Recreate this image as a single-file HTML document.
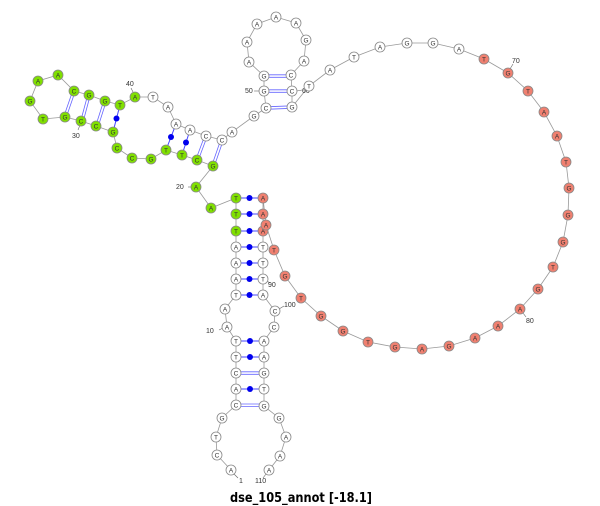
<!DOCTYPE html>
<html><head><meta charset="utf-8"><style>
html,body{margin:0;padding:0;background:#fff;}
svg{display:block}
.n circle{stroke:#888;stroke-width:0.8}
.w circle{fill:#fff}.g circle{fill:#80e000}.r circle{fill:#f08070}
.n text{font-family:"Liberation Sans",sans-serif;font-size:6.5px;text-anchor:middle;fill:#333}
.lb{font-family:"Liberation Sans",sans-serif;font-size:7px;fill:#333}
</style></head><body>
<svg width="600" height="506" viewBox="0 0 600 506">
<polyline fill="none" stroke="#999" stroke-width="0.8" points="231,470 217,455 216,437 222,418 236,405 236,389 236,373 236,357 236,341 227,327 225,309 236,295 236,279 236,263 236,247 236,231 236,214 236,198 211,208 196,187 213,166 197,160 182,155 166,150 151,159 132,158 117,148 113,132 96,126 81,121 65,117 43,119 30,101 38,81 58,75 74,91 89,95 105,101 120,105 135,97 153,97 168,107 176,124 190,130 206,136 222,140 232,132 254,116 266,108 264,91 264,76 249,62 247,42 257,24 276,17 296,23 306,40 304,61 291,75 292,91 292,107 309,86 330,70 354,57 380,47 407,43 433,43 459,49 484,59 508,73 528,91 544,112 557,136 566,162 569,188 568,215 563,242 553,267 538,289 520,309 498,326 475,338 449,346 422,349 395,347 368,342 343,331 321,316 301,298 285,276 274,250 266,225 263,198 263,214 263,231 263,247 263,263 263,279 263,295 275,311 274,327 264,341 264,357 264,373 264,389 264,406 279,418 286,437 280,456 269,470"/>
<g stroke="#4444ff" stroke-width="1">
<line x1="236" y1="389" x2="264" y2="389"/><line x1="236" y1="357" x2="264" y2="357"/><line x1="236" y1="341" x2="264" y2="341"/>
<line x1="236" y1="295" x2="263" y2="295"/><line x1="236" y1="279" x2="263" y2="279"/><line x1="236" y1="263" x2="263" y2="263"/><line x1="236" y1="247" x2="263" y2="247"/><line x1="236" y1="231" x2="263" y2="231"/><line x1="236" y1="214" x2="263" y2="214"/><line x1="236" y1="198" x2="263" y2="198"/>
<line x1="182" y1="155" x2="190" y2="130"/><line x1="166" y1="150" x2="176" y2="124"/><line x1="113" y1="132" x2="120" y2="105"/>
</g>
<g fill="#0000ee">
<circle cx="250" cy="389" r="3"/><circle cx="250" cy="357" r="3"/><circle cx="250" cy="341" r="3"/>
<circle cx="249.5" cy="295" r="3"/><circle cx="249.5" cy="279" r="3"/><circle cx="249.5" cy="263" r="3"/><circle cx="249.5" cy="247" r="3"/><circle cx="249.5" cy="231" r="3"/><circle cx="249.5" cy="214" r="3"/><circle cx="249.5" cy="198" r="3"/>
<circle cx="186" cy="142.5" r="3"/><circle cx="171" cy="137" r="3"/><circle cx="116.5" cy="118.5" r="3"/>
</g>
<g stroke="#6666ff" stroke-width="0.8">
<line x1="236" y1="404" x2="264" y2="404"/><line x1="236" y1="406.5" x2="264" y2="406.5"/>
<line x1="236" y1="371.8" x2="264" y2="371.8"/><line x1="236" y1="374.3" x2="264" y2="374.3"/>
<line x1="264" y1="74.8" x2="291" y2="74.8"/><line x1="264" y1="77.3" x2="291" y2="77.3"/>
<line x1="264" y1="89.8" x2="292" y2="89.8"/><line x1="264" y1="92.3" x2="292" y2="92.3"/>
<line x1="266" y1="106.8" x2="292" y2="105.8"/><line x1="266" y1="109.3" x2="292" y2="108.3"/>
<line x1="211.8" y1="165.6" x2="220.8" y2="139.6"/><line x1="214.2" y1="166.4" x2="223.2" y2="140.4"/>
<line x1="195.8" y1="159.6" x2="204.8" y2="135.6"/><line x1="198.2" y1="160.4" x2="207.2" y2="136.4"/>
<line x1="95.8" y1="125.6" x2="103.8" y2="100.6"/><line x1="98.2" y1="126.4" x2="106.2" y2="101.4"/>
<line x1="80.8" y1="120.6" x2="87.8" y2="94.6"/><line x1="83.2" y1="121.4" x2="90.2" y2="95.4"/>
<line x1="63.8" y1="116.6" x2="72.8" y2="90.6"/><line x1="66.2" y1="117.4" x2="75.2" y2="91.4"/>
</g>
<g stroke="#666" stroke-width="0.6">
<line x1="234" y1="474" x2="238" y2="478"/><line x1="266" y1="474" x2="263" y2="478"/>
<line x1="219" y1="330" x2="223" y2="328"/><line x1="188" y1="187" x2="192" y2="187"/>
<line x1="80" y1="125" x2="78" y2="130"/><line x1="133" y1="92" x2="131" y2="88"/>
<line x1="254" y1="91" x2="259" y2="91"/><line x1="297" y1="91" x2="302" y2="90"/>
<line x1="510" y1="69" x2="513" y2="64"/><line x1="523" y1="313" x2="526" y2="317"/>
<line x1="267" y1="281" x2="270" y2="283"/><line x1="279" y1="309" x2="284" y2="306"/>
</g>
<g class="lb">
<text x="239" y="483">1</text><text x="255" y="483">110</text>
<text x="206" y="333">10</text><text x="176" y="189">20</text>
<text x="72" y="138">30</text><text x="126" y="86">40</text>
<text x="245" y="93">50</text><text x="302" y="93">60</text>
<text x="512" y="63">70</text><text x="526" y="323">80</text>
<text x="268" y="287">90</text><text x="284" y="307">100</text>
</g>
<g class="n">
<g class="w"><circle cx="231" cy="470" r="5"/><text x="231" y="472.3">A</text></g>
<g class="w"><circle cx="217" cy="455" r="5"/><text x="217" y="457.3">C</text></g>
<g class="w"><circle cx="216" cy="437" r="5"/><text x="216" y="439.3">T</text></g>
<g class="w"><circle cx="222" cy="418" r="5"/><text x="222" y="420.3">G</text></g>
<g class="w"><circle cx="236" cy="405" r="5"/><text x="236" y="407.3">C</text></g>
<g class="w"><circle cx="236" cy="389" r="5"/><text x="236" y="391.3">A</text></g>
<g class="w"><circle cx="236" cy="373" r="5"/><text x="236" y="375.3">C</text></g>
<g class="w"><circle cx="236" cy="357" r="5"/><text x="236" y="359.3">T</text></g>
<g class="w"><circle cx="236" cy="341" r="5"/><text x="236" y="343.3">T</text></g>
<g class="w"><circle cx="227" cy="327" r="5"/><text x="227" y="329.3">A</text></g>
<g class="w"><circle cx="225" cy="309" r="5"/><text x="225" y="311.3">A</text></g>
<g class="w"><circle cx="236" cy="295" r="5"/><text x="236" y="297.3">T</text></g>
<g class="w"><circle cx="236" cy="279" r="5"/><text x="236" y="281.3">A</text></g>
<g class="w"><circle cx="236" cy="263" r="5"/><text x="236" y="265.3">A</text></g>
<g class="w"><circle cx="236" cy="247" r="5"/><text x="236" y="249.3">A</text></g>
<g class="g"><circle cx="236" cy="231" r="5"/><text x="236" y="233.3">T</text></g>
<g class="g"><circle cx="236" cy="214" r="5"/><text x="236" y="216.3">T</text></g>
<g class="g"><circle cx="236" cy="198" r="5"/><text x="236" y="200.3">T</text></g>
<g class="g"><circle cx="211" cy="208" r="5"/><text x="211" y="210.3">A</text></g>
<g class="g"><circle cx="196" cy="187" r="5"/><text x="196" y="189.3">A</text></g>
<g class="g"><circle cx="213" cy="166" r="5"/><text x="213" y="168.3">G</text></g>
<g class="g"><circle cx="197" cy="160" r="5"/><text x="197" y="162.3">C</text></g>
<g class="g"><circle cx="182" cy="155" r="5"/><text x="182" y="157.3">T</text></g>
<g class="g"><circle cx="166" cy="150" r="5"/><text x="166" y="152.3">T</text></g>
<g class="g"><circle cx="151" cy="159" r="5"/><text x="151" y="161.3">G</text></g>
<g class="g"><circle cx="132" cy="158" r="5"/><text x="132" y="160.3">C</text></g>
<g class="g"><circle cx="117" cy="148" r="5"/><text x="117" y="150.3">C</text></g>
<g class="g"><circle cx="113" cy="132" r="5"/><text x="113" y="134.3">G</text></g>
<g class="g"><circle cx="96" cy="126" r="5"/><text x="96" y="128.3">C</text></g>
<g class="g"><circle cx="81" cy="121" r="5"/><text x="81" y="123.3">C</text></g>
<g class="g"><circle cx="65" cy="117" r="5"/><text x="65" y="119.3">G</text></g>
<g class="g"><circle cx="43" cy="119" r="5"/><text x="43" y="121.3">T</text></g>
<g class="g"><circle cx="30" cy="101" r="5"/><text x="30" y="103.3">G</text></g>
<g class="g"><circle cx="38" cy="81" r="5"/><text x="38" y="83.3">A</text></g>
<g class="g"><circle cx="58" cy="75" r="5"/><text x="58" y="77.3">A</text></g>
<g class="g"><circle cx="74" cy="91" r="5"/><text x="74" y="93.3">C</text></g>
<g class="g"><circle cx="89" cy="95" r="5"/><text x="89" y="97.3">G</text></g>
<g class="g"><circle cx="105" cy="101" r="5"/><text x="105" y="103.3">G</text></g>
<g class="g"><circle cx="120" cy="105" r="5"/><text x="120" y="107.3">T</text></g>
<g class="g"><circle cx="135" cy="97" r="5"/><text x="135" y="99.3">A</text></g>
<g class="w"><circle cx="153" cy="97" r="5"/><text x="153" y="99.3">T</text></g>
<g class="w"><circle cx="168" cy="107" r="5"/><text x="168" y="109.3">A</text></g>
<g class="w"><circle cx="176" cy="124" r="5"/><text x="176" y="126.3">A</text></g>
<g class="w"><circle cx="190" cy="130" r="5"/><text x="190" y="132.3">A</text></g>
<g class="w"><circle cx="206" cy="136" r="5"/><text x="206" y="138.3">C</text></g>
<g class="w"><circle cx="222" cy="140" r="5"/><text x="222" y="142.3">C</text></g>
<g class="w"><circle cx="232" cy="132" r="5"/><text x="232" y="134.3">A</text></g>
<g class="w"><circle cx="254" cy="116" r="5"/><text x="254" y="118.3">G</text></g>
<g class="w"><circle cx="266" cy="108" r="5"/><text x="266" y="110.3">C</text></g>
<g class="w"><circle cx="264" cy="91" r="5"/><text x="264" y="93.3">G</text></g>
<g class="w"><circle cx="264" cy="76" r="5"/><text x="264" y="78.3">G</text></g>
<g class="w"><circle cx="249" cy="62" r="5"/><text x="249" y="64.3">A</text></g>
<g class="w"><circle cx="247" cy="42" r="5"/><text x="247" y="44.3">A</text></g>
<g class="w"><circle cx="257" cy="24" r="5"/><text x="257" y="26.3">A</text></g>
<g class="w"><circle cx="276" cy="17" r="5"/><text x="276" y="19.3">A</text></g>
<g class="w"><circle cx="296" cy="23" r="5"/><text x="296" y="25.3">A</text></g>
<g class="w"><circle cx="306" cy="40" r="5"/><text x="306" y="42.3">G</text></g>
<g class="w"><circle cx="304" cy="61" r="5"/><text x="304" y="63.3">A</text></g>
<g class="w"><circle cx="291" cy="75" r="5"/><text x="291" y="77.3">C</text></g>
<g class="w"><circle cx="292" cy="91" r="5"/><text x="292" y="93.3">C</text></g>
<g class="w"><circle cx="292" cy="107" r="5"/><text x="292" y="109.3">G</text></g>
<g class="w"><circle cx="309" cy="86" r="5"/><text x="309" y="88.3">T</text></g>
<g class="w"><circle cx="330" cy="70" r="5"/><text x="330" y="72.3">A</text></g>
<g class="w"><circle cx="354" cy="57" r="5"/><text x="354" y="59.3">T</text></g>
<g class="w"><circle cx="380" cy="47" r="5"/><text x="380" y="49.3">A</text></g>
<g class="w"><circle cx="407" cy="43" r="5"/><text x="407" y="45.3">G</text></g>
<g class="w"><circle cx="433" cy="43" r="5"/><text x="433" y="45.3">G</text></g>
<g class="w"><circle cx="459" cy="49" r="5"/><text x="459" y="51.3">A</text></g>
<g class="r"><circle cx="484" cy="59" r="5"/><text x="484" y="61.3">T</text></g>
<g class="r"><circle cx="508" cy="73" r="5"/><text x="508" y="75.3">G</text></g>
<g class="r"><circle cx="528" cy="91" r="5"/><text x="528" y="93.3">T</text></g>
<g class="r"><circle cx="544" cy="112" r="5"/><text x="544" y="114.3">A</text></g>
<g class="r"><circle cx="557" cy="136" r="5"/><text x="557" y="138.3">A</text></g>
<g class="r"><circle cx="566" cy="162" r="5"/><text x="566" y="164.3">T</text></g>
<g class="r"><circle cx="569" cy="188" r="5"/><text x="569" y="190.3">G</text></g>
<g class="r"><circle cx="568" cy="215" r="5"/><text x="568" y="217.3">G</text></g>
<g class="r"><circle cx="563" cy="242" r="5"/><text x="563" y="244.3">G</text></g>
<g class="r"><circle cx="553" cy="267" r="5"/><text x="553" y="269.3">T</text></g>
<g class="r"><circle cx="538" cy="289" r="5"/><text x="538" y="291.3">G</text></g>
<g class="r"><circle cx="520" cy="309" r="5"/><text x="520" y="311.3">A</text></g>
<g class="r"><circle cx="498" cy="326" r="5"/><text x="498" y="328.3">A</text></g>
<g class="r"><circle cx="475" cy="338" r="5"/><text x="475" y="340.3">A</text></g>
<g class="r"><circle cx="449" cy="346" r="5"/><text x="449" y="348.3">G</text></g>
<g class="r"><circle cx="422" cy="349" r="5"/><text x="422" y="351.3">A</text></g>
<g class="r"><circle cx="395" cy="347" r="5"/><text x="395" y="349.3">G</text></g>
<g class="r"><circle cx="368" cy="342" r="5"/><text x="368" y="344.3">T</text></g>
<g class="r"><circle cx="343" cy="331" r="5"/><text x="343" y="333.3">G</text></g>
<g class="r"><circle cx="321" cy="316" r="5"/><text x="321" y="318.3">G</text></g>
<g class="r"><circle cx="301" cy="298" r="5"/><text x="301" y="300.3">T</text></g>
<g class="r"><circle cx="285" cy="276" r="5"/><text x="285" y="278.3">G</text></g>
<g class="r"><circle cx="274" cy="250" r="5"/><text x="274" y="252.3">T</text></g>
<g class="r"><circle cx="263" cy="198" r="5"/><text x="263" y="200.3">A</text></g>
<g class="r"><circle cx="263" cy="214" r="5"/><text x="263" y="216.3">A</text></g>
<g class="r"><circle cx="263" cy="231" r="5"/><text x="263" y="233.3">A</text></g>
<g class="r"><circle cx="266" cy="225" r="5"/><text x="266" y="227.3">A</text></g>
<g class="w"><circle cx="263" cy="247" r="5"/><text x="263" y="249.3">T</text></g>
<g class="w"><circle cx="263" cy="263" r="5"/><text x="263" y="265.3">T</text></g>
<g class="w"><circle cx="263" cy="279" r="5"/><text x="263" y="281.3">T</text></g>
<g class="w"><circle cx="263" cy="295" r="5"/><text x="263" y="297.3">A</text></g>
<g class="w"><circle cx="275" cy="311" r="5"/><text x="275" y="313.3">C</text></g>
<g class="w"><circle cx="274" cy="327" r="5"/><text x="274" y="329.3">C</text></g>
<g class="w"><circle cx="264" cy="341" r="5"/><text x="264" y="343.3">A</text></g>
<g class="w"><circle cx="264" cy="357" r="5"/><text x="264" y="359.3">A</text></g>
<g class="w"><circle cx="264" cy="373" r="5"/><text x="264" y="375.3">G</text></g>
<g class="w"><circle cx="264" cy="389" r="5"/><text x="264" y="391.3">T</text></g>
<g class="w"><circle cx="264" cy="406" r="5"/><text x="264" y="408.3">G</text></g>
<g class="w"><circle cx="279" cy="418" r="5"/><text x="279" y="420.3">G</text></g>
<g class="w"><circle cx="286" cy="437" r="5"/><text x="286" y="439.3">A</text></g>
<g class="w"><circle cx="280" cy="456" r="5"/><text x="280" y="458.3">A</text></g>
<g class="w"><circle cx="269" cy="470" r="5"/><text x="269" y="472.3">A</text></g>
</g>
<text x="230" y="502" textLength="142" lengthAdjust="spacingAndGlyphs" style="font-family:'DejaVu Sans','Liberation Sans',sans-serif;font-weight:bold;font-size:13px;fill:#000">dse_105_annot [-18.1]</text>
</svg>
</body></html>
